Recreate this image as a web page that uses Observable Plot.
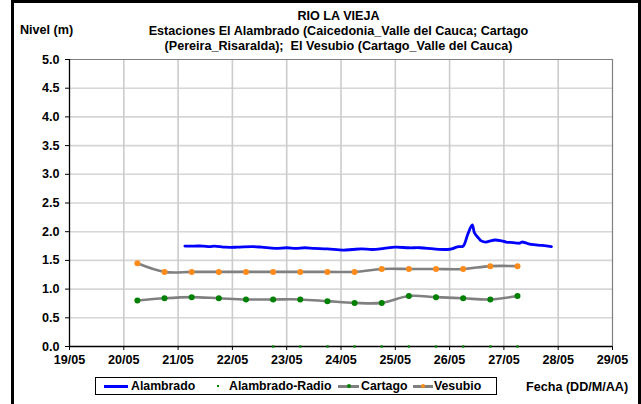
<!DOCTYPE html>
<html><head><meta charset="utf-8">
<script src="https://cdn.jsdelivr.net/npm/d3@7"></script>
<script src="https://cdn.jsdelivr.net/npm/@observablehq/plot@0.6"></script>
<style>
body{margin:0;background:#fff;font-family:"Liberation Sans",Arial,sans-serif;}
#wrap{position:relative;width:641px;height:404px;overflow:hidden;}
#frame{position:absolute;left:11px;top:0;width:630px;height:420px;border:3px solid #000;box-sizing:border-box;}
.t{position:absolute;font-weight:bold;font-size:12.6px;color:#000;white-space:nowrap;line-height:1;}
#legend{position:absolute;left:95px;top:377px;width:402px;height:18px;border:1px solid #000;box-sizing:border-box;background:#fff;}
.li{position:absolute;top:2px;font-weight:bold;font-size:12.3px;line-height:1;}
.sw{position:absolute;}
svg{position:absolute;left:0;top:0;}
</style></head>
<body><div id="wrap">
<div id="chart"></div>
<div id="frame"></div>
<div class="t" style="left:0;width:677px;text-align:center;top:10px">RIO LA VIEJA</div>
<div class="t" style="left:0;width:677px;text-align:center;top:25px">Estaciones El Alambrado (Caicedonia_Valle del Cauca; Cartago</div>
<div class="t" style="left:0;width:677px;text-align:center;top:40px">(Pereira_Risaralda);&nbsp; El Vesubio (Cartago_Valle del Cauca)</div>
<div class="t" style="left:20px;top:24px">Nivel (m)</div>
<div class="t" style="left:526px;top:381px">Fecha (DD/M/AA)</div>
<div id="legend"></div>
</div>
<script>
const xTicks = ["2011-05-19","2011-05-20","2011-05-21","2011-05-22","2011-05-23","2011-05-24","2011-05-25","2011-05-26","2011-05-27","2011-05-28","2011-05-29"];
const yTicks = [0,0.5,1,1.5,2,2.5,3,3.5,4,4.5,5];

const alambradoTimes = ["21T03","21T07","21T11","21T14","21T16","21T21","22T02","22T09","22T13","22T19","23T00","23T04","23T08","23T12","23T18","24T01","24T05","24T09","24T14","24T19","25T00","25T06","25T11","25T17","25T23","26T01","26T03","26T04","26T06","26T08","26T10","26T11","26T13","26T14","26T16","26T18","26T20","26T23","27T01","27T04","27T06","27T07","27T08","27T10","27T12","27T17","27T21"];
const alambradoLevels = [1.75,1.75,1.75,1.74,1.75,1.73,1.73,1.74,1.73,1.71,1.72,1.71,1.72,1.71,1.70,1.68,1.69,1.70,1.69,1.71,1.73,1.72,1.72,1.70,1.69,1.70,1.73,1.74,1.75,1.95,2.12,1.98,1.88,1.84,1.82,1.84,1.855,1.84,1.82,1.81,1.80,1.80,1.82,1.80,1.78,1.76,1.74];

const radioTimes = ["22T18","23T06","23T18","24T06","24T18","25T06","25T18","26T06","26T18","27T06"];
const radioLevels = [0,0,0,0,0,0,0,0,0,0];

const stationTimes = ["20T06","20T18","21T06","21T18","22T06","22T18","23T06","23T18","24T06","24T18","25T06","25T18","26T06","26T18","27T06"];
const cartagoLevels = [0.80,0.84,0.86,0.84,0.82,0.82,0.82,0.79,0.76,0.76,0.88,0.86,0.84,0.82,0.88];
const vesubioLevels = [1.45,1.30,1.30,1.30,1.30,1.30,1.30,1.30,1.30,1.35,1.35,1.35,1.35,1.40,1.40];

const colors = {alambrado:"#0000ff", radio:"#008000", line:"#808080", cartago:"#008000", vesubio:"#ff8c1a"};

const t = s => new Date("2011-05-" + s + ":00:00Z");
const day = s => new Date(s + "T00:00:00Z");
const rows = (times, vals) => times.map((s,i) => ({x: t(s), y: vals[i]}));
const alambrado = rows(alambradoTimes, alambradoLevels);
const radio = rows(radioTimes, radioLevels);
const cartago = rows(stationTimes, cartagoLevels);
const vesubio = rows(stationTimes, vesubioLevels);
const xt = xTicks.map(day);

const chart = Plot.plot({
  width: 641, height: 404,
  marginLeft: 69, marginRight: 29, marginTop: 59, marginBottom: 58,
  style: {fontFamily: "'Liberation Sans', Arial, sans-serif", color: "#000", background: "transparent", overflow: "visible"},
  x: {type: "utc", domain: [xt[0], xt[xt.length-1]]},
  y: {domain: [0, 5]},
  marks: [
    Plot.ruleY(yTicks.slice(1, -1), {stroke: "#d6d6d6", strokeWidth: 1.6}),
    Plot.ruleX(xt.slice(1, -1), {stroke: "#cccccc", strokeWidth: 1.6}),
    Plot.ruleY([5], {stroke: "#808080", strokeWidth: 1.2}),
    Plot.ruleX([xt[xt.length-1]], {stroke: "#808080", strokeWidth: 1.2}),
    Plot.axisY({ticks: yTicks, tickFormat: d => d.toFixed(1), tickSize: 4, tickPadding: 6, fontSize: 12.6, fontWeight: "bold", label: null}),
    Plot.axisX({ticks: xt, tickFormat: d3.utcFormat("%d/%m"), tickSize: 4, tickPadding: 5, fontSize: 12.6, fontWeight: "bold", label: null}),
    Plot.ruleY([0], {stroke: "#000", strokeWidth: 1.3}),
    Plot.ruleX([xt[0]], {stroke: "#000", strokeWidth: 1.3}),
    Plot.line(vesubio, {x: "x", y: "y", stroke: colors.line, strokeWidth: 2.6, curve: "catmull-rom"}),
    Plot.line(cartago, {x: "x", y: "y", stroke: colors.line, strokeWidth: 2.6, curve: "catmull-rom"}),
    Plot.dot(vesubio, {x: "x", y: "y", fill: colors.vesubio, r: 3}),
    Plot.dot(cartago, {x: "x", y: "y", fill: colors.cartago, r: 3}),
    Plot.dot(radio, {x: "x", y: "y", fill: colors.radio, r: 1.3, symbol: "square"}),
    Plot.line(alambrado, {x: "x", y: "y", stroke: colors.alambrado, strokeWidth: 2.8, curve: "catmull-rom"})
  ]
});
document.getElementById("chart").appendChild(chart);

const legend = document.getElementById("legend");
const legendItems = [
  {label: "Alambrado", kind: "line", line: colors.alambrado, lx: 8, lw: 24, tx: 35},
  {label: "Alambrado-Radio", kind: "dot", dot: colors.radio, dx: 121, tx: 133},
  {label: "Cartago", kind: "both", line: colors.line, dot: colors.cartago, lx: 242, lw: 21, tx: 265},
  {label: "Vesubio", kind: "both", line: colors.line, dot: colors.vesubio, lx: 317, lw: 20, tx: 338}
];
legendItems.forEach(it => {
  if (it.kind === "line" || it.kind === "both") {
    const s = document.createElement("div");
    s.className = "sw";
    s.style.cssText = `left:${it.lx}px;top:7px;width:${it.lw}px;height:3px;background:${it.line}`;
    legend.appendChild(s);
  }
  if (it.kind === "both") {
    const d = document.createElement("div");
    d.className = "sw";
    d.style.cssText = `left:${it.lx + it.lw/2 - 2}px;top:6px;width:4px;height:4px;border-radius:2px;background:${it.dot}`;
    legend.appendChild(d);
  }
  if (it.kind === "dot") {
    const d = document.createElement("div");
    d.className = "sw";
    d.style.cssText = `left:${it.dx}px;top:7px;width:2px;height:2px;background:${it.dot}`;
    legend.appendChild(d);
  }
  const l = document.createElement("div");
  l.className = "li";
  l.style.left = it.tx + "px";
  l.textContent = it.label;
  legend.appendChild(l);
});
</script>
</body></html>
